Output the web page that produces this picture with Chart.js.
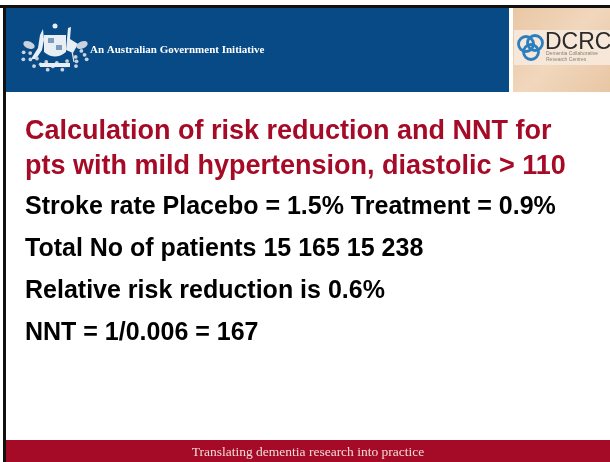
<!DOCTYPE html>
<html>
<head>
<meta charset="utf-8">
<script src="https://cdn.jsdelivr.net/npm/chart.js@4.4.1/dist/chart.umd.min.js"></script>
<style>
  html, body { margin: 0; padding: 0; background: #fff; }
  #slide { display: block; }
</style>
</head>
<body>
<canvas id="slide" width="610" height="462"></canvas>
<script>
// slide text
const titleLines = ["Calculation of risk reduction and NNT for", "pts with mild hypertension, diastolic > 110"];
const bodyLines = [
  "Stroke rate Placebo = 1.5% Treatment = 0.9%",
  "Total No of patients 15 165 15 238",
  "Relative risk reduction is 0.6%",
  "NNT = 1/0.006 = 167"
];
const headerText = "An Australian Government Initiative";
const logoText = "DCRC";
const logoSubLines = ["Dementia Collaborative", "Research Centres"];
const footerText = "Translating dementia research into practice";

const BLUE = "#074a85";
const RED = "#a50a26";

function drawCrest(ctx) {
  ctx.save();
  ctx.fillStyle = "#e9eef4";
  ctx.strokeStyle = "#dfe6ee";
  // star
  ctx.beginPath();
  ctx.arc(55, 26, 2.5, 0, Math.PI * 2);
  ctx.fill();
  // shield
  ctx.beginPath();
  ctx.moveTo(44, 35);
  ctx.lineTo(66, 35);
  ctx.lineTo(66, 52);
  ctx.quadraticCurveTo(55, 61, 44, 52);
  ctx.closePath();
  ctx.fill();
  ctx.fillStyle = "rgba(7,74,133,0.5)";
  ctx.fillRect(48, 38, 6, 5);
  ctx.fillRect(56, 45, 6, 5);
  ctx.fillStyle = "#e9eef4";
  // kangaroo (left)
  ctx.beginPath();
  ctx.moveTo(43, 29); ctx.lineTo(40, 35); ctx.lineTo(38, 48);
  ctx.lineTo(31, 59); ctx.lineTo(36, 59); ctx.lineTo(42, 50);
  ctx.lineTo(44, 40); ctx.closePath();
  ctx.fill();
  // emu (right)
  ctx.beginPath();
  ctx.moveTo(68, 28); ctx.lineTo(71, 27); ctx.lineTo(70, 39);
  ctx.lineTo(78, 44); ctx.lineTo(73, 53); ctx.lineTo(66, 50);
  ctx.closePath();
  ctx.fill();
  ctx.lineWidth = 1.3;
  ctx.beginPath(); ctx.moveTo(72, 51); ctx.lineTo(74, 62); ctx.stroke();
  // wattle sprays
  ctx.fillStyle = "#c9d3df";
  for (let i = 0; i < 20; i++) {
    const a = Math.PI * (0.12 + i / 19 * 0.76);
    const r = 21 + (i % 3) * 4;
    ctx.beginPath();
    ctx.arc(55 + Math.cos(a) * r * 1.35, 44 + Math.sin(a) * r * 0.9, 1.9, 0, Math.PI * 2);
    ctx.fill();
  }
  ctx.beginPath(); ctx.ellipse(29, 45, 6, 3.5, 0.4, 0, Math.PI * 2); ctx.fill();
  ctx.beginPath(); ctx.ellipse(82, 45, 6, 3.5, -0.4, 0, Math.PI * 2); ctx.fill();
  // scroll
  ctx.fillStyle = "#e9eef4";
  ctx.fillRect(40, 63, 30, 4);
  ctx.restore();
}

function drawLogo(ctx) {
  ctx.save();
  const grad = ctx.createLinearGradient(513, 8, 610, 92);
  grad.addColorStop(0, "#e9c7a4");
  grad.addColorStop(0.5, "#f1d7bd");
  grad.addColorStop(1, "#e8c6a3");
  ctx.fillStyle = grad;
  ctx.fillRect(513, 8, 97, 84);
  ctx.fillStyle = "#f6e7d8";
  ctx.fillRect(514, 30, 96, 35);
  // rings
  ctx.strokeStyle = "#2a7fc0";
  ctx.lineWidth = 2.8;
  [[526, 44], [535, 43], [531, 52]].forEach(([x, y]) => {
    ctx.beginPath(); ctx.arc(x, y, 7.5, 0, Math.PI * 2); ctx.stroke();
  });
  ctx.fillStyle = "#2b2b2b";
  ctx.font = "23px 'Liberation Sans', Arial, sans-serif";
  ctx.textBaseline = "alphabetic";
  ctx.fillText(logoText, 545, 49);
  ctx.fillStyle = "#8b7f78";
  ctx.font = "5px 'Liberation Sans', Arial, sans-serif";
  ctx.fillText(logoSubLines[0], 546, 55);
  ctx.fillText(logoSubLines[1], 546, 61);
  ctx.restore();
}

const slideFrame = {
  id: "slideFrame",
  beforeDraw(chart) {
    const ctx = chart.ctx;
    ctx.save();
    ctx.fillStyle = "#fff";
    ctx.fillRect(0, 0, 610, 462);
    // frame lines
    ctx.fillStyle = "#111";
    ctx.fillRect(0, 5, 610, 3);
    ctx.fillRect(3, 5, 3, 457);
    // header band
    ctx.fillStyle = BLUE;
    ctx.fillRect(6, 8, 503, 84);
    drawCrest(ctx);
    ctx.fillStyle = "#ffffff";
    ctx.font = "bold 11px 'Liberation Serif', 'Times New Roman', serif";
    ctx.textBaseline = "middle";
    ctx.fillText(headerText, 90, 50);
    drawLogo(ctx);
    // footer band
    ctx.fillStyle = RED;
    ctx.fillRect(6, 440, 604, 22);
    ctx.fillStyle = "#f3dada";
    ctx.font = "13.5px 'Liberation Serif', 'Times New Roman', serif";
    ctx.textAlign = "center";
    ctx.fillText(footerText, 308, 452);
    ctx.restore();
  }
};

new Chart(document.getElementById("slide"), {
  type: "bar",
  data: { labels: [], datasets: [] },
  options: {
    responsive: false,
    animation: false,
    layout: { padding: { top: 92, left: 25, right: 4, bottom: 30 } },
    scales: { x: { display: false }, y: { display: false } },
    plugins: {
      legend: { display: false },
      tooltip: { enabled: false },
      title: {
        display: true,
        text: titleLines,
        align: "start",
        color: RED,
        font: { family: "'Liberation Sans', Arial, sans-serif", size: 27, weight: "bold", lineHeight: 1.29 },
        padding: { top: 22, bottom: 0 }
      },
      subtitle: {
        display: true,
        text: bodyLines,
        align: "start",
        color: "#000",
        font: { family: "'Liberation Sans', Arial, sans-serif", size: 25, weight: "bold", lineHeight: 1.68 },
        padding: { top: 2, bottom: 0 }
      }
    }
  },
  plugins: [slideFrame]
});
</script>
</body>
</html>
